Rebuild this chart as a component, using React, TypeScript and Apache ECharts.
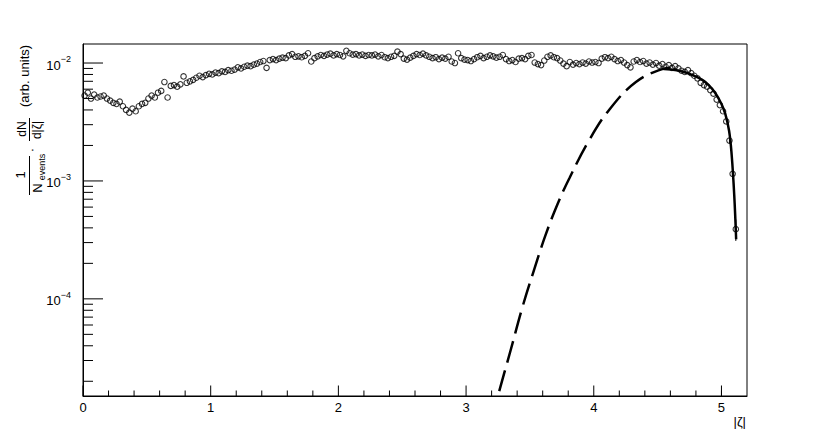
import { useEffect, useRef } from "react";
import * as echarts from "echarts";

// ---- data ----
const BIN_WIDTH = 0.025;
const FIRST_BIN_CENTER = 0.0125;
// 1/N dN/d|zeta| per bin
const binValues = [
  0.0053, 0.0056, 0.0050, 0.0054, 0.0051, 0.0052, 0.0053, 0.0050, 0.0048, 0.0046,
  0.0045, 0.0047, 0.0043, 0.0040, 0.0038, 0.0041, 0.0039, 0.0043, 0.0045, 0.0046,
  0.0050, 0.0053, 0.0051, 0.0056, 0.0058, 0.0069, 0.0051, 0.0064, 0.0065, 0.0063,
  0.0066, 0.0077, 0.0068, 0.0070, 0.0072, 0.0075, 0.0078, 0.0076, 0.0079, 0.0081,
  0.0080, 0.0083, 0.0082, 0.0085, 0.0084, 0.0087, 0.0086, 0.0088, 0.0092, 0.0090,
  0.0093, 0.0095, 0.0094, 0.0097, 0.0099, 0.0102, 0.0104, 0.0091, 0.0106, 0.0108,
  0.0106, 0.0109, 0.0111, 0.0110, 0.0116, 0.0119, 0.0113, 0.0114, 0.0112, 0.0115,
  0.0121, 0.0103, 0.0110, 0.0114, 0.0117, 0.0115, 0.0118, 0.0120, 0.0116, 0.0119,
  0.0117, 0.0114, 0.0127, 0.0121, 0.0118, 0.0119, 0.0116, 0.0118, 0.0115, 0.0117,
  0.0116, 0.0118, 0.0114, 0.0117, 0.0112, 0.0110, 0.0113, 0.0115, 0.0125, 0.0119,
  0.0109, 0.0107, 0.0111, 0.0115, 0.0119, 0.0117, 0.0120, 0.0116, 0.0113, 0.0110,
  0.0112, 0.0108, 0.0111, 0.0109, 0.0113, 0.0103, 0.0100, 0.0121, 0.0110, 0.0107,
  0.0106, 0.0104, 0.0108, 0.0112, 0.0115, 0.0110, 0.0113, 0.0116, 0.0114, 0.0111,
  0.0113, 0.0117, 0.0108, 0.0104, 0.0106, 0.0102, 0.0109, 0.0110, 0.0108, 0.0115,
  0.0117, 0.0101, 0.0098, 0.0096, 0.0105, 0.0113, 0.0116, 0.0112, 0.0110, 0.0105,
  0.0099, 0.0094, 0.0102, 0.0097, 0.0100, 0.0098, 0.0101, 0.0099, 0.0103, 0.0101,
  0.0102, 0.0100, 0.0109, 0.0112, 0.0110, 0.0113, 0.0108, 0.0104, 0.0106, 0.0101,
  0.0096, 0.0092, 0.0103, 0.0106, 0.0102, 0.0104, 0.0099, 0.0101, 0.0097, 0.0100,
  0.0095, 0.0098, 0.0093, 0.0096, 0.0091, 0.0094, 0.0090, 0.0086, 0.0084, 0.0087,
  0.0082, 0.0078, 0.0074, 0.0068, 0.0065, 0.0063, 0.0059, 0.0055, 0.0049, 0.0044,
  0.0039, 0.0032, 0.0022, 0.00115, 0.00039,
];
// statistical errors of the last three bins (others are hidden by the markers)
const tailErrors = [0.00012, 0.00011, 0.00008];

// extrapolated model (dashed)
const dashedX = [3.2, 3.25, 3.35, 3.44, 3.52, 3.62, 3.72, 3.81, 3.96, 4.12, 4.33, 4.54, 4.6];
const dashedY = [9.3e-6, 1.51e-5, 3.7e-5, 8.4e-5, 1.6e-4, 3.42e-4, 6.5e-4, 1.06e-3, 2.18e-3, 4.0e-3, 6.9e-3, 8.9e-3, 9.07e-3];

// fit (solid)
const fitX = [4.55, 4.65, 4.75, 4.85, 4.9, 4.95, 5.0, 5.03, 5.06, 5.08, 5.1, 5.115];
const fitY = [0.0089, 0.0087, 0.0081, 0.0072, 0.0065, 0.0056, 0.0045, 0.0037, 0.00265, 0.00166, 0.00076, 0.00032];

// axes
const X_MIN = 0;
const X_MAX = 5.2;
const Y_MIN = 1.5e-5;
const Y_MAX = 0.0145;
const xMajorTicks = [0, 1, 2, 3, 4, 5];
const xMinorTicks = [
  0.2, 0.4, 0.6, 0.8, 1.2, 1.4, 1.6, 1.8, 2.2, 2.4, 2.6, 2.8,
  3.2, 3.4, 3.6, 3.8, 4.2, 4.4, 4.6, 4.8, 5.0,
];
const yMajorTicks = [1e-4, 1e-3, 1e-2];
const yMinorTicks = [
  2e-5, 3e-5, 4e-5, 5e-5, 6e-5, 7e-5, 8e-5, 9e-5,
  2e-4, 3e-4, 4e-4, 5e-4, 6e-4, 7e-4, 8e-4, 9e-4,
  2e-3, 3e-3, 4e-3, 5e-3, 6e-3, 7e-3, 8e-3, 9e-3,
];
const xTitle = "|ζ|";

const FONT = "'Liberation Sans', Arial, Helvetica, sans-serif";

export default function App() {
  const ref = useRef<HTMLDivElement>(null);

  useEffect(() => {
    if (!ref.current) return;
    const chart = echarts.init(ref.current, undefined, { renderer: "svg" });

    const points = binValues.map((v, i) => [FIRST_BIN_CENTER + BIN_WIDTH * i, v]);
    const errData = tailErrors.map((e, k) => {
      const i = binValues.length - tailErrors.length + k;
      return [points[i][0], points[i][1], e];
    });
    const tickData: number[][] = [
      ...xMajorTicks.map((x) => [x, Y_MIN, 0]),
      ...xMinorTicks.map((x) => [x, Y_MIN, 1]),
      ...yMajorTicks.map((y) => [X_MIN, y, 2]),
      ...yMinorTicks.map((y) => [X_MIN, y, 3]),
    ];

    const ylabelStyle = (text: string, fontSize: number) => ({
      text,
      fontSize,
      fontFamily: FONT,
      fill: "#000",
      align: "center",
      verticalAlign: "middle",
      textAlign: "center",
      textVerticalAlign: "middle",
    });
    const rot = Math.PI / 2;

    chart.setOption({
      animation: false,
      backgroundColor: "#fff",
      grid: {
        left: 83,
        right: 83,
        top: 44,
        bottom: 44,
        show: true,
        borderColor: "#000",
        borderWidth: 1,
        backgroundColor: "transparent",
      },
      xAxis: {
        type: "value",
        min: X_MIN,
        max: X_MAX,
        interval: 1,
        axisLine: { show: true, lineStyle: { color: "#000", width: 1 } },
        axisTick: { show: false },
        splitLine: { show: false },
        axisLabel: {
          color: "#000",
          fontSize: 13,
          fontFamily: FONT,
          margin: 5,
          showMaxLabel: false,
          formatter: (v: number) => (Math.abs(v - Math.round(v)) < 1e-9 ? String(v) : ""),
        },
      },
      yAxis: {
        type: "log",
        logBase: 10,
        min: Y_MIN,
        max: Y_MAX,
        axisLine: { show: true, lineStyle: { color: "#000", width: 1 } },
        axisTick: { show: false },
        minorTick: { show: false },
        splitLine: { show: false },
        axisLabel: {
          color: "#000",
          margin: 12,
          showMinLabel: false,
          showMaxLabel: false,
          formatter: (v: number) => {
            const e = Math.log10(v);
            const r = Math.round(e);
            if (Math.abs(e - r) > 1e-6) return "";
            return `{b|10}{s|${r < 0 ? "\u2212" : ""}${Math.abs(r)}}`;
          },
          rich: {
            b: { fontSize: 13, fontFamily: FONT, color: "#000", lineHeight: 17, verticalAlign: "bottom" },
            s: { fontSize: 9, fontFamily: FONT, color: "#000", lineHeight: 10, verticalAlign: "top" },
          },
        },
      },
      graphic: [
        { type: "text", x: 746, y: 421, style: { text: xTitle, fontSize: 13, fontFamily: FONT, fill: "#000", align: "right", verticalAlign: "middle", textAlign: "right", textVerticalAlign: "middle" } },
        { type: "text", x: 24, y: 76, rotation: rot, style: ylabelStyle("(arb. units)", 13) },
        { type: "text", x: 22, y: 129, rotation: rot, style: ylabelStyle("dN", 12) },
        { type: "line", shape: { x1: 29.5, y1: 118, x2: 29.5, y2: 141 }, style: { stroke: "#000", lineWidth: 1 } },
        { type: "text", x: 37, y: 130, rotation: rot, style: ylabelStyle("d|ζ|", 12) },
        { type: "text", x: 31, y: 150, rotation: rot, style: ylabelStyle("·", 13) },
        { type: "text", x: 20, y: 175, rotation: rot, style: ylabelStyle("1", 13) },
        { type: "line", shape: { x1: 29.5, y1: 156, x2: 29.5, y2: 195 }, style: { stroke: "#000", lineWidth: 1 } },
        { type: "text", x: 37.5, y: 188, rotation: rot, style: ylabelStyle("N", 13) },
        { type: "text", x: 42, y: 167, rotation: rot, style: ylabelStyle("events", 9) },
      ],
      series: [
        {
          type: "custom",
          name: "ticks",
          silent: true,
          data: tickData,
          renderItem: (_p: any, api: any) => {
            const kind = api.value(2);
            const p = api.coord([api.value(0), api.value(1)]);
            let shape;
            if (kind < 2) {
              const len = kind === 0 ? 10.5 : 5.5;
              shape = { x1: p[0], y1: p[1], x2: p[0], y2: p[1] - len };
            } else {
              const len = kind === 2 ? 20 : 10;
              shape = { x1: p[0], y1: p[1], x2: p[0] + len, y2: p[1] };
            }
            return { type: "line", shape, style: { stroke: "#000", lineWidth: 1 } };
          },
        },
        {
          type: "scatter",
          name: "data",
          data: points,
          symbol: "circle",
          symbolSize: 5.5,
          itemStyle: { color: "rgba(255,255,255,0)", borderColor: "#000", borderWidth: 1.1 },
          z: 3,
        },
        {
          type: "custom",
          name: "errors",
          silent: true,
          data: errData,
          renderItem: (_p: any, api: any) => {
            const x = api.value(0);
            const y = api.value(1);
            const e = api.value(2);
            const a = api.coord([x, y - e]);
            const b = api.coord([x, y + e]);
            return { type: "line", shape: { x1: a[0], y1: a[1], x2: b[0], y2: b[1] }, style: { stroke: "#000", lineWidth: 1 } };
          },
          z: 4,
        },
        {
          type: "line",
          name: "model",
          data: dashedX.map((x, i) => [x, dashedY[i]]),
          showSymbol: false,
          smooth: 0.4,
          clip: true,
          lineStyle: { color: "#000", width: 2.5, type: [22, 8] },
          z: 4,
        },
        {
          type: "line",
          name: "fit",
          data: fitX.map((x, i) => [x, fitY[i]]),
          showSymbol: false,
          smooth: 0.4,
          clip: true,
          lineStyle: { color: "#000", width: 2.5 },
          z: 5,
        },
      ],
    });

    return () => chart.dispose();
  }, []);

  return (
    <div
      ref={ref}
      style={{ position: "fixed", left: 0, top: 0, width: 830, height: 440, background: "#fff" }}
    />
  );
}
